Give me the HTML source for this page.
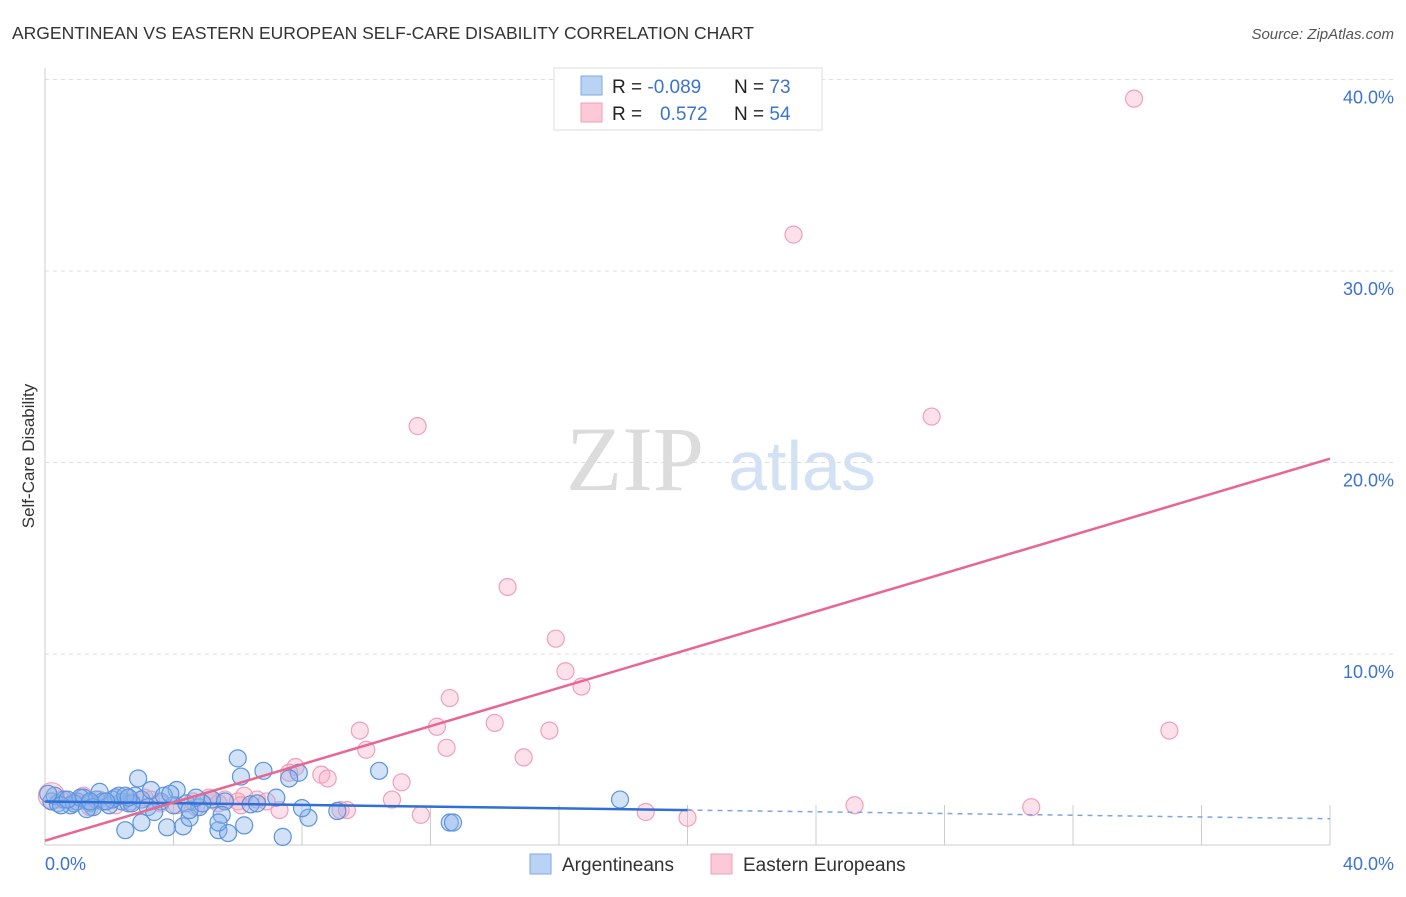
<!DOCTYPE html>
<html><head><meta charset="utf-8"><style>
body{margin:0;background:#fff;font-family:"Liberation Sans",sans-serif}
</style></head><body>
<svg width="1406" height="892" xmlns="http://www.w3.org/2000/svg" font-family="Liberation Sans, sans-serif">
<text x="12" y="39" font-size="17.5" fill="#333">ARGENTINEAN VS EASTERN EUROPEAN SELF-CARE DISABILITY CORRELATION CHART</text>
<text x="1394" y="39" font-size="15" fill="#555" font-style="italic" text-anchor="end">Source: ZipAtlas.com</text>
<g>
<text x="635" y="490" font-size="92" fill="#dcdcdc" font-family="Liberation Serif, serif" text-anchor="middle">ZIP</text>
<text x="802" y="490" font-size="70" fill="#d3e1f4" text-anchor="middle">atlas</text>
</g>
<g id="grid"></g>
<line x1="45" y1="68" x2="45" y2="845" stroke="#ccc"/>
<line x1="45" y1="845" x2="1330" y2="845" stroke="#ccc"/>
<g id="ticks"></g>
<text x="45" y="870" font-size="18" fill="#3b73d1">0.0%</text>
<text x="1394" y="870" font-size="18" fill="#3b73d1" text-anchor="end">40.0%</text>
<text transform="translate(34,456) rotate(-90)" font-size="17" fill="#333" text-anchor="middle">Self-Care Disability</text>
<g id="pts"></g>
<g id="lines"></g>
<g>
<rect x="554" y="68" width="268" height="62" fill="#fff" stroke="#ddd"/>
<rect x="581" y="76" width="21" height="19" fill="#b9d3f5" stroke="#7fa8e0"/>
<rect x="581" y="103" width="21" height="19" fill="#fcc9d8" stroke="#f0a0b8"/>
<text x="612" y="93" font-size="19" fill="#222">R = <tspan fill="#3b73d1">-0.089</tspan><tspan x="734">N = </tspan><tspan fill="#3b73d1">73</tspan></text>
<text x="612" y="120" font-size="19" fill="#222">R = <tspan x="660" fill="#3b73d1">0.572</tspan><tspan x="734">N = </tspan><tspan fill="#3b73d1">54</tspan></text>
</g>
<g>
<rect x="530" y="854" width="21" height="20" fill="#b9d3f5" stroke="#7fa8e0"/>
<text x="562" y="871" font-size="19" fill="#333">Argentineans</text>
<rect x="711" y="854" width="21" height="20" fill="#fcc9d8" stroke="#f0a0b8"/>
<text x="743" y="871" font-size="19" fill="#333">Eastern Europeans</text>
</g>
</svg>
<script>
const yTicks=[10,20,30,40];
const xTicks=[4,8,12,16,20,24,28,32,36,40];
const blueX=[0.2,0.4,0.6,0.8,1.0,1.2,1.4,1.6,1.8,2.0,2.2,2.4,2.6,2.8,3.0,3.2,0.3,0.9,1.5,2.1,2.7,3.6,4.0,4.4,4.8,5.2,5.6,0.5,1.1,1.7,2.3,6.0,2.9,6.1,6.8,10.4,7.9,7.6,17.9,12.6,12.7,2.5,3.8,4.3,5.4,5.7,7.4,6.2,3.0,3.4,4.5,5.5,8.2,9.1,5.4,4.5,7.2,8.0,6.4,4.1,3.3,3.7,1.3,1.9,0.7,2.5,4.9,3.9,4.7,0.1,1.4,2.6,6.6];
const blueY=[2.3,2.2,2.4,2.1,2.3,2.5,2.2,2.4,2.3,2.1,2.5,2.3,2.2,2.6,2.4,2.0,2.6,2.2,2.0,2.4,2.2,2.3,2.1,2.2,2.0,2.4,2.3,2.1,2.5,2.8,2.6,4.55,3.5,3.6,3.9,3.9,3.8,3.5,2.4,1.2,1.2,0.8,0.95,1.0,0.8,0.65,0.45,1.05,1.2,1.75,1.45,1.6,1.45,1.8,1.2,1.85,2.5,1.95,2.15,2.9,2.9,2.6,1.9,2.3,2.4,2.6,2.2,2.7,2.5,2.7,2.3,2.5,2.2];
const pinkX=[33.9,23.3,11.6,27.6,14.4,15.9,16.2,16.7,12.6,9.8,12.2,14.0,15.7,35.0,12.5,10.0,14.9,7.8,7.6,8.6,8.8,11.1,6.2,10.8,25.2,30.7,18.7,20.0,11.7,9.2,9.4,7.3,0.2,0.5,0.9,1.4,1.7,2.2,2.7,3.3,3.6,4.1,4.6,5.2,5.4,6.0,6.6,6.9,5.1,5.6,3.1,1.2,6.1,4.7];
const pinkY=[39.0,31.9,21.9,22.4,13.5,10.8,9.1,8.3,7.7,6.0,6.2,6.4,6.0,6.0,5.1,5.0,4.6,4.1,3.8,3.7,3.5,3.3,2.6,2.4,2.1,2.0,1.75,1.45,1.6,1.85,1.85,1.85,2.6,2.4,2.3,2.0,2.4,2.1,2.3,2.4,2.2,2.1,2.3,2.4,2.2,2.3,2.4,2.3,2.5,2.4,2.5,2.6,2.1,2.0];
const blueLine=[2.3,1.4];
const pinkLine=[0.25,20.2];
const NS="http://www.w3.org/2000/svg";
const sx=v=>45+v*32.125, sy=v=>845.5-v*19.15;
function mk(t,a,p){const e=document.createElementNS(NS,t);for(const k in a)e.setAttribute(k,a[k]);p.appendChild(e);return e;}
const grid=document.getElementById('grid');
yTicks.forEach(v=>{
 const l=mk('line',{x1:45,x2:1395,y1:sy(v),y2:sy(v),stroke:'#ddd','stroke-dasharray':'4,4'},grid);
 
 
 const t=mk('text',{x:1394,y:sy(v)+24,'font-size':18,fill:'#3b73d1','text-anchor':'end'},grid);
 t.textContent=v.toFixed(1)+'%';
 
 
});
const tk=document.getElementById('ticks');
xTicks.forEach(v=>{
 const l=mk('line',{x1:sx(v),x2:sx(v),y1:805,y2:845,stroke:'#ccc'},tk);
 
 
});
const pts=document.getElementById('pts');
pinkX.forEach((x,i)=>{
 const c=mk('circle',{cx:sx(x),cy:sy(pinkY[i]),r:i==32?13:8.5,fill:'rgba(248,170,195,0.35)',stroke:'#f0a0b8','stroke-width':1.2},pts);
 
 
});
blueX.forEach((x,i)=>{
 const c=mk('circle',{cx:sx(x),cy:sy(blueY[i]),r:8.5,fill:'rgba(140,180,235,0.4)',stroke:'#5b93dd','stroke-width':1.2},pts);
 
 
});
const ln=document.getElementById('lines');
const bAt=x=>blueLine[0]+(blueLine[1]-blueLine[0])*x/40;
let e=mk('line',{x1:sx(0),y1:sy(bAt(0)),x2:sx(20),y2:sy(bAt(20)),stroke:'#2f6fd6','stroke-width':2.5},ln);


e=mk('line',{x1:sx(20),y1:sy(bAt(20)),x2:sx(40),y2:sy(bAt(40)),stroke:'#7aa5e4','stroke-width':1.5,'stroke-dasharray':'5,5'},ln);


e=mk('line',{x1:sx(0),y1:sy(pinkLine[0]),x2:sx(40),y2:sy(pinkLine[1]),stroke:'#e8668f','stroke-width':2.5},ln);


</script>
</body></html>
